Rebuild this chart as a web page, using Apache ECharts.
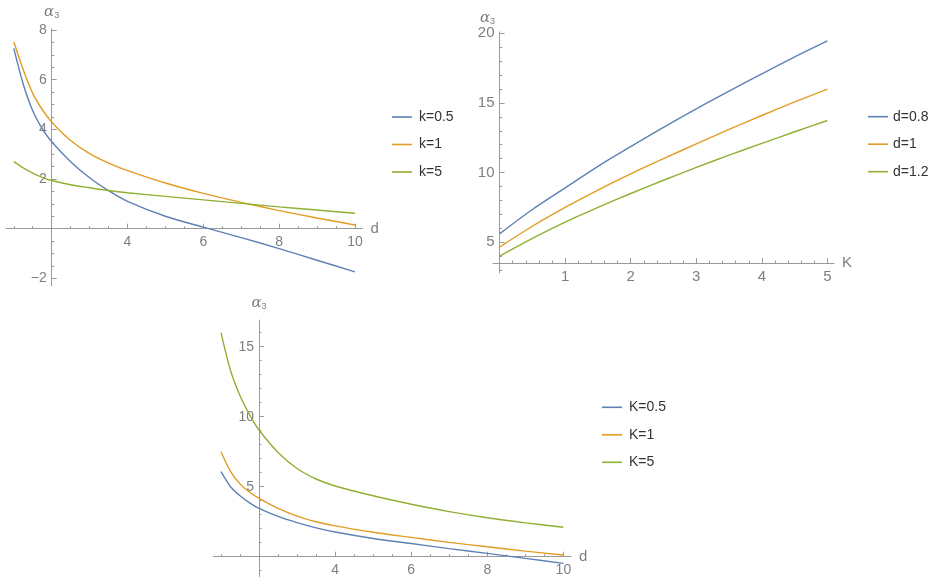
<!DOCTYPE html>
<html>
<head>
  <meta charset="utf-8">
  <title>alpha3</title>
  <style>
    body {
      margin: 0;
      background: #fff;
    }
    #container {
      width: 932px;
      height: 577px;
    }
  </style>
</head>
<body>
  <div id="container"></div>

  <script type="text/javascript" src="https://cdn.jsdelivr.net/npm/echarts@6/dist/echarts.min.js"></script>

  <script type="text/javascript">
    // Painel 1: alpha3 em função de d, para k = 0.5, 1, 5
    var d1 = [1, 1.25, 1.5, 1.75, 2, 2.5, 3, 3.5, 4, 5, 6, 7, 8, 9, 10];
    var p1k05 = [7.26, 5.82, 4.75, 4.03, 3.5, 2.7, 2.05, 1.53, 1.1, 0.5, 0.06, -0.36, -0.8, -1.27, -1.74];
    var p1k1 = [7.53, 6.4, 5.45, 4.8, 4.3, 3.55, 3.02, 2.64, 2.34, 1.84, 1.42, 1.06, 0.73, 0.43, 0.15];
    var p1k5 = [2.7, 2.45, 2.24, 2.07, 1.94, 1.77, 1.65, 1.54, 1.45, 1.3, 1.16, 1.02, 0.88, 0.75, 0.62];
    var names1 = ['k=0.5', 'k=1', 'k=5'];

    // Painel 2: alpha3 em função de K, para d = 0.8, 1, 1.2
    var K2 = [0, 0.5, 1, 1.5, 2, 2.5, 3, 3.5, 4, 4.5, 5];
    var p2d08 = [5.6, 7.35, 8.9, 10.45, 11.87, 13.25, 14.58, 15.85, 17.09, 18.3, 19.46];
    var p2d1 = [4.65, 6.15, 7.5, 8.75, 9.91, 11.0, 12.06, 13.1, 14.1, 15.07, 15.99];
    var p2d12 = [4.0, 5.28, 6.45, 7.5, 8.5, 9.45, 10.37, 11.25, 12.1, 12.93, 13.74];
    var names2 = ['d=0.8', 'd=1', 'd=1.2'];

    // Painel 3: alpha3 em função de d, para K = 0.5, 1, 5
    var d3 = [1, 1.25, 1.5, 1.75, 2, 2.5, 3, 3.5, 4, 5, 6, 7, 8, 9, 10];
    var p3K05 = [6.07, 5.0, 4.35, 3.85, 3.45, 2.88, 2.43, 2.06, 1.76, 1.3, 0.94, 0.58, 0.24, -0.12, -0.48];
    var p3K1 = [7.5, 6.1, 5.2, 4.6, 4.17, 3.45, 2.9, 2.5, 2.2, 1.75, 1.38, 1.02, 0.71, 0.4, 0.12];
    var p3K5 = [16.0, 13.3, 11.5, 10.15, 9.05, 7.45, 6.3, 5.55, 5.05, 4.35, 3.75, 3.22, 2.78, 2.42, 2.1];
    var names3 = ['K=0.5', 'K=1', 'K=5'];

    // marcas dos eixos
    var xMajor1 = [4, 6, 8, 10];
    var yMajor1 = [-2, 2, 4, 6, 8];
    var xMajor2 = [1, 2, 3, 4, 5];
    var yMajor2 = [5, 10, 15, 20];
    var xMajor3 = [4, 6, 8, 10];
    var yMajor3 = [5, 10, 15];

    var cores = ['#5E81B5', '#E19C24', '#8FB032'];
    var corEixo = '#999999';
    var corTexto = '#7f7f7f';
    var fonte = 'Liberation Sans, Arial, sans-serif';

    // caixa de cada painel (px) e onde os eixos se cruzam
    var paineis = [
      { left: 6.2, top: 28.8, width: 356.3, height: 257, xMin: 0.8, xMax: 10.2, yMin: -2.3, yMax: 8.05, x0: 2, y0: 0,
        xMinorStep: 0.5, yMinorStep: 0.5, xMajor: xMajor1, yMajor: yMajor1, xName: 'd', fs: 14, nameGap: 9 },
      { left: 493, top: 31.9, width: 341, height: 241, xMin: -0.1, xMax: 5.1, yMin: 2.8, yMax: 20.1, x0: 0, y0: 3.5,
        xMinorStep: 0.2, yMinorStep: 1, xMajor: xMajor2, yMajor: yMajor2, xName: 'K', fs: 15, nameGap: -4 },
      { left: 213.4, top: 320.1, width: 357.6, height: 259, xMin: 0.8, xMax: 10.2, yMin: -1.6, yMax: 16.9, x0: 2, y0: 0,
        xMinorStep: 0.5, yMinorStep: 1, xMajor: xMajor3, yMajor: yMajor3, xName: 'd', fs: 14, nameGap: 9 }
    ];

    function minorTicks(min, max, step, major) {
      var out = [];
      var start = Math.ceil(min / step - 1e-9);
      for (var i = start; i * step <= max + 1e-9; i++) {
        var v = Math.round(i * step * 1000) / 1000;
        if (major.indexOf(v) < 0) out.push(v);
      }
      return out;
    }

    function pares(xs, ys) {
      return xs.map(function (x, i) { return [x, ys[i]]; });
    }

    var grids = [], xAxes = [], yAxes = [], series = [], legends = [];

    paineis.forEach(function (p, i) {
      grids.push({ left: p.left, top: p.top, width: p.width, height: p.height, outerBoundsMode: 'none' });
      var yOff = -(p.x0 - p.xMin) / (p.xMax - p.xMin) * p.width;
      var xOff = -(p.y0 - p.yMin) / (p.yMax - p.yMin) * p.height;

      // eixo principal x (com rótulos)
      xAxes.push({
        type: 'value', gridIndex: i, min: p.xMin, max: p.xMax, position: 'bottom', offset: xOff,
        axisLine: { onZero: false, lineStyle: { color: corEixo, width: 1 } },
        axisTick: { inside: true, length: 5, customValues: p.xMajor, lineStyle: { color: corEixo } },
        axisLabel: { customValues: p.xMajor, margin: 6, color: corTexto, fontSize: p.fs, fontFamily: fonte },
        splitLine: { show: false },
        name: p.xName, nameLocation: 'end', nameGap: 8,
        nameTextStyle: { color: corTexto, fontSize: 15, fontFamily: fonte, verticalAlign: 'middle' }
      });
      // eixo secundário x (marcas menores)
      xAxes.push({
        type: 'value', gridIndex: i, min: p.xMin, max: p.xMax, position: 'bottom', offset: xOff,
        axisLine: { show: false, onZero: false },
        axisTick: { inside: true, length: 2.5, customValues: minorTicks(p.xMin, p.xMax, p.xMinorStep, p.xMajor.concat([p.x0])), lineStyle: { color: corEixo } },
        axisLabel: { show: false },
        splitLine: { show: false }
      });
      // eixo principal y
      yAxes.push({
        type: 'value', gridIndex: i, min: p.yMin, max: p.yMax, position: 'left', offset: yOff,
        axisLine: { onZero: false, lineStyle: { color: corEixo, width: 1 } },
        axisTick: { inside: true, length: 5, customValues: p.yMajor, lineStyle: { color: corEixo } },
        axisLabel: {
          customValues: p.yMajor, margin: 5, color: corTexto, fontSize: p.fs, fontFamily: fonte,
          formatter: function (v) { return v < 0 ? '\u2212' + Math.abs(v) : String(v); }
        },
        splitLine: { show: false },
        name: '{a|\u03b1}{s|3}', nameLocation: 'end', nameGap: p.nameGap,
        nameTextStyle: {
          padding: i === 1 ? [0, 24, 0, 0] : [0, 0, 0, 0],
          rich: {
            a: { fontSize: 15, fontStyle: 'italic', color: corTexto, fontFamily: 'DejaVu Serif, serif', lineHeight: 16 },
            s: { fontSize: 9, color: corTexto, fontFamily: fonte, lineHeight: 9, padding: [8, 0, 0, 0], verticalAlign: 'bottom' }
          }
        }
      });
      yAxes.push({
        type: 'value', gridIndex: i, min: p.yMin, max: p.yMax, position: 'left', offset: yOff,
        axisLine: { show: false, onZero: false },
        axisTick: { inside: true, length: 2.5, customValues: minorTicks(p.yMin, p.yMax, p.yMinorStep, p.yMajor.concat([p.y0])), lineStyle: { color: corEixo } },
        axisLabel: { show: false },
        splitLine: { show: false }
      });
    });

    function addSeries(nomes, xs, listas, painel) {
      listas.forEach(function (ys, j) {
        series.push({
          name: nomes[j], type: 'line', xAxisIndex: painel * 2, yAxisIndex: painel * 2,
          data: pares(xs, ys), smooth: 0.3,
          symbol: 'none', lineStyle: { width: 1.4, color: cores[j] }, itemStyle: { color: cores[j] },
          silent: true, animation: false
        });
      });
    }
    addSeries(names1, d1, [p1k05, p1k1, p1k5], 0);
    addSeries(names2, K2, [p2d08, p2d1, p2d12], 1);
    addSeries(names3, d3, [p3K05, p3K1, p3K5], 2);

    // legendas: traço curto + texto, à direita de cada painel
    var posLegenda = [[392, 117, 2], [868, 116.7, 0], [602, 407.3, 2]];
    [names1, names2, names3].forEach(function (nomes, i) {
      legends.push({
        data: nomes, orient: 'vertical', left: posLegenda[i][0], top: posLegenda[i][1] - 7,
        icon: 'rect', itemWidth: 20, itemHeight: 1.6, itemGap: 13.5, selectedMode: false, padding: 0,
        textStyle: { color: '#333', fontSize: 14, fontFamily: fonte, padding: [0, 0, 0, posLegenda[i][2]] }
      });
    });

    var myChart = echarts.init(document.getElementById('container'), null, { renderer: 'canvas' });
    myChart.setOption({
      animation: false,
      backgroundColor: '#fff',
      grid: grids,
      xAxis: xAxes,
      yAxis: yAxes,
      legend: legends,
      series: series
    });
  </script>
</body>
</html>
